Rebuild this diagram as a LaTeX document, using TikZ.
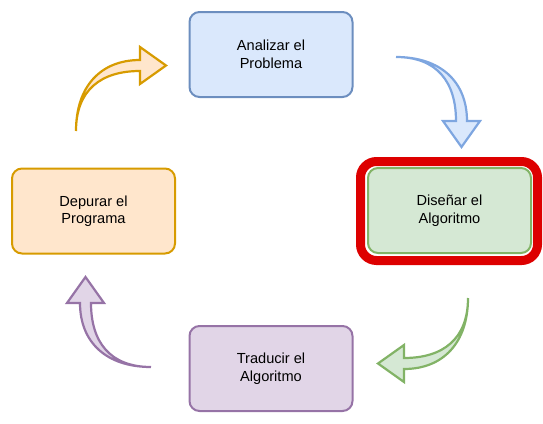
\documentclass[tikz,border=0pt]{standalone}
\usepackage{fontspec}
\setmainfont{Liberation Sans}
\definecolor{bluefill}{HTML}{DAE8FC}
\definecolor{bluedraw}{HTML}{6C8EBF}
\definecolor{bluearrow}{HTML}{7EA6E0}
\definecolor{greenfill}{HTML}{D5E8D4}
\definecolor{greendraw}{HTML}{82B366}
\definecolor{orangefill}{HTML}{FFE6CC}
\definecolor{orangedraw}{HTML}{D79B00}
\definecolor{purplefill}{HTML}{E1D5E7}
\definecolor{purpledraw}{HTML}{9673A6}
\definecolor{ringred}{HTML}{DD0000}
\tikzset{
  stepbox/.style={rectangle, rounded corners=10pt, line width=2pt,
    minimum width=163pt, minimum height=85pt, inner sep=0pt, align=center,
    font=\fontsize{14.6}{17.5}\selectfont},
  jumparrow/.style={line width=2.2pt, line join=miter},
}
\newcommand{\jumpshape}[1]{%
  \path[jumparrow,#1] (0,0) .. controls (0,-41) and (25,-60) .. (64,-60)
    -- (64,-47) -- (90,-65.5) -- (64,-84) -- (64,-71)
    .. controls (25,-71) and (0,-45) .. (0,0) -- cycle;}
\begin{document}
\begin{tikzpicture}[x=1pt,y=-1pt]
\useasboundingbox (0,0) rectangle (543,423);
% highlight ring
\node[rectangle, rounded corners=16pt, line width=9pt, draw=ringred, fill=white,
  minimum width=177pt, minimum height=99pt, inner sep=0pt] (ring) at (449,211) {};
% boxes
\node[stepbox, fill=bluefill, draw=bluedraw] (analizar) at (271,54.5) {Analizar el\\Problema};
\node[stepbox, fill=greenfill, draw=greendraw] (disenar) at (449.5,210.5) {Diseñar el\\Algoritmo};
\node[stepbox, fill=purplefill, draw=purpledraw] (traducir) at (271,368.5) {Traducir el\\Algoritmo};
\node[stepbox, fill=orangefill, draw=orangedraw] (depurar) at (93.5,211) {Depurar el\\Programa};
% curved jump-in arrows
\begin{scope}[shift={(76,131)}]
  \jumpshape{fill=orangefill, draw=orangedraw}
\end{scope}
\begin{scope}[shift={(396,57)}, rotate=-90]
  \jumpshape{fill=bluefill, draw=bluearrow}
\end{scope}
\begin{scope}[shift={(468,298)}, rotate=180]
  \jumpshape{fill=greenfill, draw=greendraw}
\end{scope}
\begin{scope}[shift={(151,367)}, rotate=90]
  \jumpshape{fill=purplefill, draw=purpledraw}
\end{scope}
\end{tikzpicture}
\end{document}
